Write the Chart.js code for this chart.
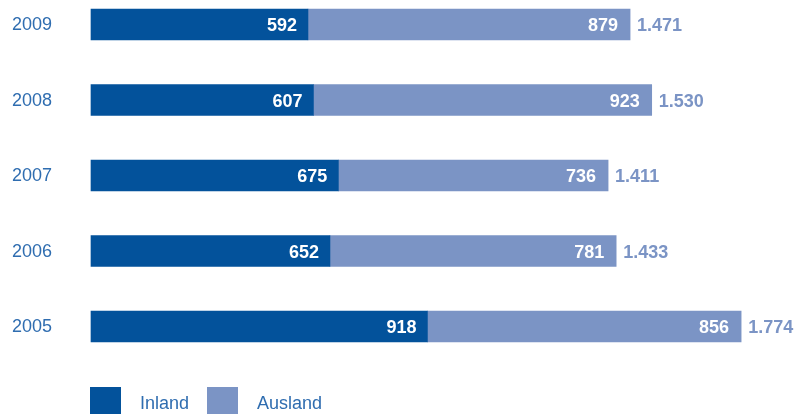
<!DOCTYPE html>
<html>
<head>
<meta charset="utf-8">
<script src="https://cdn.jsdelivr.net/npm/chart.js@4"></script>
<style>
  html, body { margin: 0; padding: 0; background: #fff; }
  #wrap { width: 795px; height: 414px; position: relative; }
</style>
</head>
<body>
<div id="wrap"><canvas id="exportChart"></canvas></div>
<script>
// Data
const years = ['2009', '2008', '2007', '2006', '2005'];
const inland = [592, 607, 675, 652, 918];
const ausland = [879, 923, 736, 781, 856];
const seriesNames = ['Inland', 'Ausland'];

const darkBlue = '#03529b';
const lightBlue = '#7b94c5';
const textBlue = '#2f6db0';
const fontFamily = '"Liberation Sans", Arial, Helvetica, sans-serif';

// German thousand separator
function fmt(n) {
    return String(n).replace(/\B(?=(\d{3})+(?!\d))/g, '.');
}

// value labels inside bars + totals
const valueLabels = {
    id: 'valueLabels',
    afterDatasetsDraw(chart) {
        const ctx = chart.ctx;
        const m0 = chart.getDatasetMeta(0);
        const m1 = chart.getDatasetMeta(1);
        ctx.save();
        ctx.font = 'bold 18px ' + fontFamily;
        ctx.textBaseline = 'alphabetic';
        years.forEach((y, i) => {
            const a = m0.data[i], b = m1.data[i];
            ctx.fillStyle = '#fff';
            ctx.textAlign = 'right';
            ctx.fillText(fmt(inland[i]), a.x - 11, a.y + 6.5);
            ctx.fillText(fmt(ausland[i]), b.x - 12, b.y + 6.5);
            ctx.fillStyle = lightBlue;
            ctx.textAlign = 'left';
            ctx.fillText(fmt(inland[i] + ausland[i]), b.x + 7, b.y + 6.5);
        });
        ctx.restore();
    }
};

// legend at bottom with squares
const squareLegend = {
    id: 'squareLegend',
    afterDraw(chart) {
        const ctx = chart.ctx;
        const pos = [90, 207];
        ctx.save();
        ctx.font = '18px ' + fontFamily;
        ctx.textBaseline = 'alphabetic';
        ctx.textAlign = 'left';
        chart.data.datasets.forEach((ds, i) => {
            ctx.fillStyle = ds.backgroundColor;
            ctx.fillRect(pos[i], 387, 31, 30);
            ctx.fillStyle = textBlue;
            ctx.fillText(ds.label, pos[i] + 50, 409);
        });
        ctx.restore();
    }
};

const ctx = document.getElementById('exportChart').getContext('2d');
const exportChart = new Chart(ctx, {
    type: 'bar',
    data: {
        labels: years,
        datasets: [{
            label: seriesNames[0],
            data: inland,
            backgroundColor: darkBlue,
            barThickness: 31,
            clip: false
        }, {
            label: seriesNames[1],
            data: ausland,
            backgroundColor: lightBlue,
            barThickness: 31,
            clip: false
        }]
    },
    options: {
        indexAxis: 'y',
        responsive: true,
        maintainAspectRatio: false,
        animation: false,
        layout: { padding: { top: 24.5, bottom: 87.5, left: 12, right: 0 } },
        scales: {
            x: {
                stacked: true,
                display: false,
                min: 0,
                max: 1921
            },
            y: {
                stacked: true,
                offset: false,
                grid: { display: false },
                border: { display: false },
                ticks: {
                    color: textBlue,
                    font: { family: fontFamily, size: 18 },
                    crossAlign: 'far',
                    padding: 0,
                    labelOffset: 1
                },
                afterFit(scale) { scale.width = 79; }
            }
        },
        plugins: {
            legend: { display: false },
            tooltip: { enabled: false }
        }
    },
    plugins: [valueLabels, squareLegend]
});
</script>
</body>
</html>
